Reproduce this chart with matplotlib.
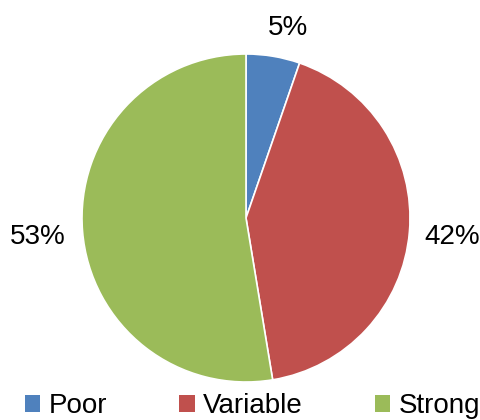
import matplotlib
matplotlib.use("Agg")
import matplotlib.pyplot as plt
from matplotlib.patches import Patch

categories = ["Poor", "Variable", "Strong"]
values = [5.3, 42.1, 52.6]
colors = ["#4F81BD", "#C0504D", "#9BBB59"]

# label offsets from the pie centre, in radius units
label_xy = [(0.256, 1.159), (1.256, -0.116), (-1.268, -0.116)]

plt.rcParams["font.family"] = ["Liberation Sans", "DejaVu Sans"]

W, H = 480, 420
fig = plt.figure(figsize=(W / 100, H / 100), dpi=100)
cx, cy, R = 246, 218, 164
ax = fig.add_axes([(cx - R) / W, (H - cy - R) / H, 2 * R / W, 2 * R / H])

wedges, _ = ax.pie(values, colors=colors, startangle=90, counterclock=False,
                   radius=1.0, wedgeprops=dict(edgecolor="white", linewidth=1.2))
ax.set_xlim(-1, 1)
ax.set_ylim(-1, 1)
ax.set_aspect("equal")
ax.axis("off")

total = sum(values)
for v, (lx, ly) in zip(values, label_xy):
    ax.text(lx, ly, f"{round(100 * v / total)}%", ha="center", va="center",
            fontsize=20, color="black", clip_on=False)

handles = [Patch(facecolor=c, edgecolor="none") for c in colors]
fig.legend(handles, categories, loc="center left", bbox_to_anchor=(25 / W, 1 - 406 / H),
           ncol=3, frameon=False, fontsize=20, borderpad=0, borderaxespad=0,
           handlelength=0.55, handleheight=0.55, handletextpad=0.3, columnspacing=2.6)

fig.savefig("out.png", dpi=100)
